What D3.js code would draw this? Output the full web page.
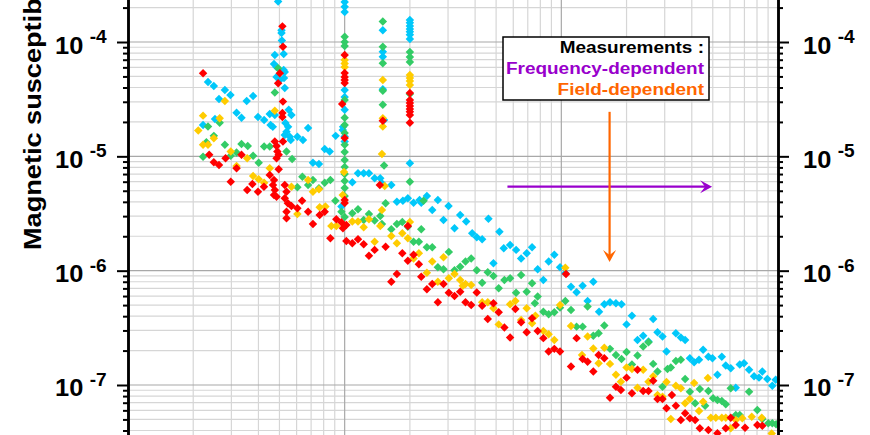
<!DOCTYPE html>
<html><head><meta charset="utf-8">
<script src="https://cdn.jsdelivr.net/npm/d3@7"></script>
<style>
body{margin:0;background:#fff}
svg{display:block}
text{font-family:"Liberation Sans",Arial,Helvetica,sans-serif;font-weight:bold}
</style>
</head><body>
<svg id="chart" width="870" height="435"></svg>
<script>
// ---------------- DATA ([frequency Hz, susceptibility]) ----------------
const cyanData = [[22.2,1.88e-5],[23.4,4.47e-5],[24.9,4.13e-5],[25.2,2.12e-5],[26.3,3.18e-5],[28.0,3.81e-5],[29.7,3.44e-5],[31.7,2.40e-5],[33.4,2.17e-5],[35.3,3.05e-5],[37.8,3.37e-5],[39.8,2.21e-5],[42.5,2.08e-5],[45.1,2.35e-5],[45.5,1.88e-5],[47.6,2.30e-5],[46.6,1.81e-5],
[49.3,2.26e-4],[51.1,1.27e-4],[51.1,1.20e-4],[51.3,1.03e-4],[47.6,7.70e-5],[52.3,7.85e-5],[47.2,6.42e-5],[48.5,6.05e-5],[52.3,5.69e-5],[52.9,5.47e-5],[48.5,4.94e-5],[50.2,4.66e-5],[52.5,4.85e-5],[52.9,3.96e-5],[55.2,2.55e-5],[56.8,2.30e-5],[53.3,1.96e-5],[54.8,1.81e-5],[53.9,1.64e-5],[52.9,1.54e-5],[55.8,1.48e-5],[56.4,1.39e-5],[60.5,1.48e-5],[64.2,1.39e-5],[67.8,1.77e-5],[71.4,8.79e-6],[76.1,8.56e-6],[80.9,1.16e-5],[85.3,1.10e-5],[90.9,1.51e-5],[98.0,1.70e-5],[96.6,3.64e-6],
[100,2.24e-4],[100,2.03e-4],[100,1.83e-4],[100,3.81e-5],[100,3.31e-5],[100,2.55e-5],[98.4,1.81e-5],[100,1.49e-5],[100,1.35e-5],
[108.5,5.93e-6],[115.2,7.10e-6],[122.4,7.10e-6],[129.4,7.10e-6],[137.5,6.42e-6],[146.0,6.42e-6],[148.5,5.81e-6],[164.2,5.61e-6],
[150,1.27e-4],[150,8.23e-5],[150,7.44e-5],[150,3.86e-5],[152,2.08e-5],
[200,1.56e-4],[200,1.47e-4],[200,1.38e-4],[200,1.30e-4],[200,1.23e-4],[200,1.16e-4],[200,1.06e-4],[200,8.69e-6],
[174.2,4.01e-6],[185.6,4.09e-6],[195.7,4.30e-6],[208,3.93e-6],[221.6,4.15e-6],[225.7,3.93e-6],[239.6,4.50e-6],[253.6,3.39e-6],[269.2,4.15e-6],[285.9,2.78e-6],[301.6,3.68e-6],[321.3,2.35e-6],[341.4,3.07e-6],[363.8,2.69e-6],[387.7,2.12e-6],[407.1,1.96e-6],[431.1,1.88e-6],[460.9,2.84e-6],[486,1.16e-6],[518,2.19e-6],[542.2,1.57e-6],[580.2,1.68e-6],[618.4,1.52e-6],[652.1,1.28e-6],[692,1.42e-6],[732.8,1.60e-6],[777.6,1.03e-6],[826,8.29e-7],[874,1.20e-6],[928.4,1.38e-6],[986.3,1.07e-6],[1043,9.49e-7],[1108,7.25e-7],[1176,6.47e-7],[1254,7.39e-7],[1322,5.43e-7],[1405,8.01e-7],[1493,4.38e-7],[1579,5.08e-7],[1677,5.29e-7],[1787,5.19e-7],[1896,5.08e-7],[2000,3.39e-7],[2118,4.04e-7],[2247,2.48e-7],[2387,2.70e-7],[2526,2.40e-7],[2655,3.78e-7],[2779,2.89e-7],[2930,2.65e-7],[3058,1.96e-7],[3378,2.84e-7],[3561,2.60e-7],[3728,2.48e-7],[3919,1.71e-7],[4102,1.58e-7],[4320,1.66e-7],[4512,2.03e-7],[4773,1.77e-7],[4981,1.71e-7],[5253,1.23e-7],[5504,1.77e-7],[5741,1.48e-7],[6053,1.40e-7],[6385,9.45e-8],[6661,1.51e-7],[6969,1.55e-7],[7353,1.36e-7],[7752,1.19e-7],[8173,1.16e-7],[8466,1.31e-7],[8927,1.13e-7],[9413,9.86e-8],[9760,1.11e-7]];

const greenData = [[22.2,9.9e-6],[23.0,1.33e-5],[23.4,1.82e-5],[24.9,1.51e-5],[26.5,1.97e-5],[28.0,1.26e-5],[29.8,1.01e-5],[31.7,1.08e-5],[33.4,1.28e-5],[35.7,1.23e-5],[37.8,1.01e-5],[40.1,8.79e-6],[42.5,1.22e-5],[45.1,1.22e-5],[47.6,3.61e-5],[49.3,5.89e-5],[53.9,1.10e-5],[57.2,9.47e-6],[60.5,5.36e-6],[63.8,6.63e-6],[67.8,5.61e-6],[71.4,6.21e-6],[76.1,5.25e-6],[80.9,5.88e-6],[85.9,6.21e-6],[90.6,4.09e-6],[96.6,3.28e-6],
[100,1.11e-4],[100,1.0e-4],[100,9.23e-5],[100,3.11e-5],[100,2.17e-5],[100,1.88e-5],[100,1.60e-5],[100,1.26e-5],[100,1.09e-5],[100,9.28e-6],[100,8.06e-6],[100,7.0e-6],[100,6.08e-6],[100,5.28e-6],[100,4.50e-6],[100,2.95e-6],
[108.5,3.18e-6],[115.2,3.44e-6],[122.4,2.78e-6],[129.4,3.13e-6],[137.5,2.74e-6],[146,3.01e-6],[148.6,2.56e-6],[154.5,3.88e-6],
[150,1.51e-4],[150,9.1e-5],[150,6.51e-5],[150,3.75e-5],[150,2.82e-5],[152,8.3e-6],
[200,8.18e-5],[200,7.39e-5],[200,6.69e-5],[200,3.51e-5],[200,6.0e-6],
[164.2,2.30e-6],[174.2,2.56e-6],[184.5,2.66e-6],[195.7,2.42e-6],[208,1.79e-6],[220,1.79e-6],[225.7,2.30e-6],[231.3,4.09e-6],[239.6,1.60e-6],[253.6,1.60e-6],[269.2,1.07e-6],[285.9,1.03e-6],[302.5,1.46e-6],[321.3,1.01e-6],[341.4,1.08e-6],[361.1,1.20e-6],[383.6,1.28e-6],[407.1,1.01e-6],[431.1,7.85e-7],[457.5,9.68e-7],[486,8.98e-7],[514,7.02e-7],[546.1,8.29e-7],[580.2,8.58e-7],[618,6.42e-7],[652.1,9.17e-7],[692,6.55e-7],[732.8,7.76e-7],[755,5.19e-7],[777.6,5.93e-7],[826,4.38e-7],[874,4.16e-7],[928.4,4.33e-7],[986.3,4.75e-7],[1043,5.43e-7],[1108,4.53e-7],[1176,3.24e-7],[1254,3.24e-7],[1322,4.85e-7],[1405,2.70e-7],[1486,2.84e-7],[1579,3.31e-7],[1677,2.07e-7],[1787,1.83e-7],[1896,1.69e-7],[2000,1.94e-7],[2118,1.51e-7],[2247,1.81e-7],[2387,2.17e-7],[2526,2.37e-7],[2655,1.53e-7],[2779,1.31e-7],[2930,9.67e-8],[3090,1.38e-7],[3202,1.42e-7],[3378,1.62e-7],[3561,1.66e-7],[3728,1.13e-7],[3919,8.74e-8],[4146,6.92e-8],[4357,9.23e-8],[4609,6.59e-8],[4773,8.86e-8],[5017,7.65e-8],[5253,7.39e-8],[5504,7.25e-8],[5741,6.78e-8],[6053,9.36e-8],[6385,5.47e-8],[6661,5.47e-8],[7353,8.74e-8],[8028,6.05e-8],[8466,5.04e-8],[9020,4.63e-8],[9413,4.63e-8],[9800,4.53e-8]];

const yellowData = [[21.1,1.68e-5],[22.2,2.27e-5],[22.2,1.26e-5],[23.4,1.26e-5],[24.9,1.44e-5],[26.5,2.15e-5],[28.0,3.05e-5],[29.8,1.10e-5],[31.7,8.23e-6],[35.5,9.61e-6],[37.8,6.73e-6],[40.1,6.29e-6],[42.5,5.88e-6],[45.1,7.85e-6],[47.6,2.50e-5],[56.8,5.43e-6],[60.5,3.13e-6],[67.8,6.21e-6],[71.4,4.90e-6],[76.1,5.15e-6],[76.7,3.58e-6],[81.5,3.64e-6],[86.8,2.46e-6],[91.5,2.46e-6],
[100,6.96e-5],[100,6.49e-5],[100,6.05e-5],[99.3,7.3e-6],[98,4.59e-6],
[108.5,2.69e-6],[115.2,2.69e-6],[122.4,2.40e-6],[129.4,2.82e-6],[137.5,1.79e-6],[146,2.46e-6],[148.6,1.05e-5],[148.6,3.39e-6],[153,5.5e-6],
[150,4.66e-5],[150,2.15e-5],[150,1.82e-5],
[200,5.15e-5],[200,4.85e-5],[200,4.56e-5],[200,4.21e-5],
[164.2,2.01e-6],[174.2,1.74e-6],[184.5,2.12e-6],[195.7,1.92e-6],[200,2.66e-6],[208,1.28e-6],[220,1.42e-6],[239.6,9.61e-7],[253.6,1.20e-6],[269.2,8.01e-7],[285.9,1.31e-6],[302.5,8.58e-7],[321.3,9.36e-7],[341.4,8.29e-7],[351,7.39e-7],[361.1,7.65e-7],[383.6,7.50e-7],[431.1,5.29e-7],[457.5,5.29e-7],[486,4.69e-7],[514,3.39e-7],[580.2,5.08e-7],[613.8,5.43e-7],[652.1,3.70e-7],[692,4.69e-7],[732.8,3.46e-7],[759,4.04e-7],[826,2.97e-7],[874,2.78e-7],[928.4,2.48e-7],[986.3,5.01e-7],[1043,1.06e-6],[1108,3.28e-7],[1246,1.83e-7],[1322,2.65e-7],[1405,2.09e-7],[1486,1.55e-7],[1579,2.12e-7],[1677,1.53e-7],[1787,1.23e-7],[1883,1.07e-7],[2000,1.42e-7],[2118,1.38e-7],[2247,9.45e-8],[2387,1.36e-7],[2526,1.07e-7],[2655,1.19e-7],[2779,8.18e-8],[2930,7.9e-8],[3058,1.06e-7],[3202,5.04e-8],[3378,9.86e-8],[3561,9.36e-8],[3728,6.92e-8],[3919,7.54e-8],[4102,1.04e-7],[4320,5.93e-8],[4512,7.14e-8],[4745,1.15e-7],[4898,5.17e-8],[5163,5.17e-8],[5504,5.17e-8],[5741,5.17e-8],[6053,4.18e-8],[6385,4.94e-8],[6846,5.12e-8],[7568,5.28e-8],[8413,5.17e-8],[9354,3.77e-8]];

const redData = [[22.2,5.32e-5],[23.7,1.03e-5],[24.9,8.86e-6],[26.3,8.39e-6],[28.2,9.61e-6],[29.8,6.0e-6],[31.7,7.85e-6],[33.4,1.03e-5],[35.5,5.07e-6],[37.5,5.72e-6],[39.8,4.90e-6],[42.4,5.43e-6],
[51.6,1.37e-4],[51.9,9.1e-5],[50.2,5.32e-5],[49.3,4.36e-5],[51.9,3.01e-5],[51.6,2.39e-5],[51.6,2.21e-5],[47.6,1.35e-5],[48.5,1.23e-5],[51.9,1.35e-5],[48.9,1.10e-5],[49.6,1.03e-5],[48.5,9.61e-6],[49.6,7.70e-6],[45.1,6.86e-6],[47.2,6.21e-6],[46.7,5.61e-6],[47.6,5.07e-6],[47.2,4.59e-6],[48.5,4.43e-6],[52.9,5.61e-6],[53.9,4.90e-6],[52.9,4.30e-6],[54.7,3.88e-6],[53.9,3.28e-6],[53.9,2.87e-6],[56.8,3.68e-6],[60.5,3.51e-6],[63.6,4.09e-6],[67.8,3.28e-6],[71.4,2.56e-6],[76.7,3.07e-6],[80.9,3.28e-6],[85.9,1.92e-6],[91.5,2.82e-6],[96.6,2.65e-6],[98.2,2.35e-6],[101.8,2.51e-6],[101.8,1.82e-6],[108.5,1.74e-6],[115.2,1.88e-6],[122.4,1.70e-6],[129.4,1.35e-6],[137.5,1.52e-6],[145.3,5.61e-6],[154.5,1.62e-6],
[100,7.70e-5],[100,5.36e-5],[100,4.94e-5],[100,4.66e-5],[100,4.38e-5],[97.4,2.87e-5],[100,1.45e-5],[100,4.15e-6],[100,3.91e-6],
[150,2.05e-5],
[200,3.58e-5],[200,3.11e-5],[200,2.93e-5],[200,2.76e-5],[200,2.60e-5],[200,2.45e-5],[200,2.30e-5],[200,1.97e-5],
[164.2,8.01e-7],[174.2,9.36e-7],[184.5,1.42e-6],[195.7,2.46e-6],[195.7,1.22e-6],[208,1.38e-6],[220,1.14e-6],[225.7,8.86e-7],[239.6,6.87e-7],[253.6,7.65e-7],[269.2,5.29e-7],[285.9,7.65e-7],[302.5,6.42e-7],[321.3,6.0e-7],[341.4,6.55e-7],[361.1,5.29e-7],[383.6,5.01e-7],[407.1,6.45e-7],[431.1,4.94e-7],[457.5,3.78e-7],[486,5.19e-7],[514,4.33e-7],[546.1,3.18e-7],[580.2,2.60e-7],[613.8,4.62e-7],[652.1,3.54e-7],[692,2.89e-7],[732.8,3.84e-7],[777.6,2.97e-7],[826,2.57e-7],[874,1.96e-7],[928.4,2.07e-7],[986.3,1.96e-7],[1051,9.36e-7],[1108,1.45e-7],[1176,2.57e-7],[1254,1.69e-7],[1322,1.60e-7],[1405,1.31e-7],[1486,1.83e-7],[1579,1.71e-7],[1677,7.74e-8],[1787,9.67e-8],[1883,9.04e-8],[2000,1.16e-7],[2118,8.46e-8],[2247,1.36e-7],[2387,8.86e-8],[2526,8.86e-8],[2655,1.09e-7],[2779,7.54e-8],[2930,7.54e-8],[3058,6.25e-8],[3237,8.18e-8],[3378,6.59e-8],[3561,4.94e-8],[3728,5.65e-8],[3919,5.12e-8],[4146,4.94e-8],[4357,4.18e-8],[4773,4.04e-8],[5253,3.78e-8],[5741,4.18e-8],[6053,5.17e-8],[6385,4.47e-8],[7047,4.23e-8],[8028,4.47e-8],[8466,4.41e-8]];

const seriesList = [cyanData, greenData, yellowData, redData];
const seriesColors = ["#00c8fa", "#33cc66", "#ffcc00", "#ff0000"];

const yTickExponents = [-4, -5, -6, -7];
const titleText = "Magnetic susceptibility";
const legendTitle = "Measurements :";
const legendLines = ["Frequency-dependent", "Field-dependent"];
const legendColors = ["#9900cc", "#ff6600"];
// annotation arrows in data units: [freq, chi]
const purpleArrow = [[564, 5.43e-6], [4964, 5.43e-6]];
const orangeArrow = [[1670, 2.45e-5], [1670, 1.19e-6]];

// ---------------- SCALES ----------------
const svg = d3.select("#chart");
const x = d3.scaleLog().domain([10, 10000]).range([128, 778]);
const y = d3.scaleLog().domain([1e-3, 1e-8]).range([-72.33, 499.33]);

svg.append("rect").attr("width", 870).attr("height", 435).attr("fill", "#fff");

// grid values
const xMinor = [], xMajor = [100, 1000];
for (let p = 1; p <= 3; p++) for (let m = 2; m <= 9; m++) xMinor.push(m * Math.pow(10, p));
const yMinor = [], yMajor = [];
for (let p = -8; p <= -3; p++) { yMajor.push(Math.pow(10, p)); for (let m = 2; m <= 9; m++) yMinor.push(m * Math.pow(10, p)); }

const [x0, x1] = x.range();
const [yt, yb] = y.range();
const grid = svg.append("g");
grid.selectAll(".hmin").data(yMinor).join("line")
  .attr("x1", x0).attr("x2", x1).attr("y1", d => y(d)).attr("y2", d => y(d))
  .attr("stroke", "#d6d6d6").attr("stroke-width", 1.2);
grid.selectAll(".vmin").data(xMinor).join("line")
  .attr("y1", yt).attr("y2", yb).attr("x1", d => x(d)).attr("x2", d => x(d))
  .attr("stroke", "#d6d6d6").attr("stroke-width", 1.2);
grid.selectAll(".hmaj").data(yMajor).join("line")
  .attr("x1", x0).attr("x2", x1).attr("y1", d => y(d)).attr("y2", d => y(d))
  .attr("stroke", "#a8a8a8").attr("stroke-width", 1.2);
grid.selectAll(".vmaj").data(xMajor).join("line")
  .attr("y1", yt).attr("y2", yb).attr("x1", d => x(d)).attr("x2", d => x(d))
  .attr("stroke", "#a8a8a8").attr("stroke-width", 1.2);

// legend box
const legend = svg.append("g");
legend.append("rect").attr("x", 503).attr("y", 37).attr("width", 206).attr("height", 63)
  .attr("fill", "#fff").attr("stroke", "#000").attr("stroke-width", 1.5);
const lg = legend.append("g").attr("transform", "translate(704,0)");
lg.append("text").attr("transform", "translate(0,53) scale(1.15,1)").attr("text-anchor", "end")
  .attr("font-size", 16.5).attr("fill", "#000").text(legendTitle);
legendLines.forEach((t, i) => {
  lg.append("text").attr("transform", `translate(0,${74 + i * 21}) scale(1.15,1)`).attr("text-anchor", "end")
    .attr("font-size", 16.5).attr("fill", legendColors[i]).text(t);
});

// points
const sym = d3.symbol().type(d3.symbolSquare).size(36);
const pts = svg.append("g");
seriesList.forEach((data, i) => {
  pts.append("g").selectAll("path").data(data).join("path")
    .attr("d", sym)
    .attr("transform", d => `translate(${x(d[0])},${y(d[1])}) rotate(45)`)
    .attr("fill", seriesColors[i]);
});

// arrows
function drawArrow(pts2, color) {
  const p0 = [x(pts2[0][0]), y(pts2[0][1])], p1 = [x(pts2[1][0]), y(pts2[1][1])];
  const dx = p1[0] - p0[0], dy = p1[1] - p0[1], L = Math.hypot(dx, dy);
  const ux = dx / L, uy = dy / L, nx = -uy, ny = ux;
  const back = 12, notch = 7, half = 6.5;
  svg.append("line").attr("x1", p0[0]).attr("y1", p0[1])
    .attr("x2", p1[0] - ux * notch).attr("y2", p1[1] - uy * notch)
    .attr("stroke", color).attr("stroke-width", 2.2);
  const path = d3.path();
  path.moveTo(p1[0], p1[1]);
  path.lineTo(p1[0] - ux * back + nx * half, p1[1] - uy * back + ny * half);
  path.lineTo(p1[0] - ux * notch, p1[1] - uy * notch);
  path.lineTo(p1[0] - ux * back - nx * half, p1[1] - uy * back - ny * half);
  path.closePath();
  svg.append("path").attr("d", path.toString()).attr("fill", color);
}
drawArrow(purpleArrow, "#9900cc");
drawArrow(orangeArrow, "#ff6600");

// axes
function styleAxis(g) {
  g.selectAll("path.domain").attr("stroke", "#000").attr("stroke-width", 2.5);
  g.selectAll(".tick line").attr("stroke", "#000").attr("stroke-width", 2);
}
svg.append("g").attr("transform", `translate(${x0},0)`)
  .call(d3.axisLeft(y).tickValues(yMinor).tickSize(5).tickSizeOuter(0).tickFormat(""))
  .call(styleAxis);
svg.append("g").attr("transform", `translate(${x0},0)`)
  .call(d3.axisLeft(y).tickValues(yMajor).tickSize(11).tickSizeOuter(0).tickFormat(""))
  .call(styleAxis);
svg.append("g").attr("transform", `translate(${x1},0)`)
  .call(d3.axisRight(y).tickValues(yMinor).tickSize(5).tickSizeOuter(0).tickFormat(""))
  .call(styleAxis);
svg.append("g").attr("transform", `translate(${x1},0)`)
  .call(d3.axisRight(y).tickValues(yMajor).tickSize(11).tickSizeOuter(0).tickFormat(""))
  .call(styleAxis);

// tick labels
[55, 803].forEach(lx => {
  yTickExponents.forEach(e => {
    const t = svg.append("text").attr("transform", `translate(${lx},${y(Math.pow(10, e)) + 11.5}) scale(1.06,1)`)
      .attr("font-size", 24).attr("fill", "#000");
    t.append("tspan").text("10");
    t.append("tspan").attr("dx", 6).attr("dy", -10.5).attr("font-size", 18).text(String(e));
  });
});

// y title (cut at the top edge, as in the reference)
svg.append("text").attr("transform", "translate(41,250) rotate(-90) scale(1.18,1)")
  .attr("font-size", 23).attr("fill", "#000").text(titleText);
</script>
</body></html>
